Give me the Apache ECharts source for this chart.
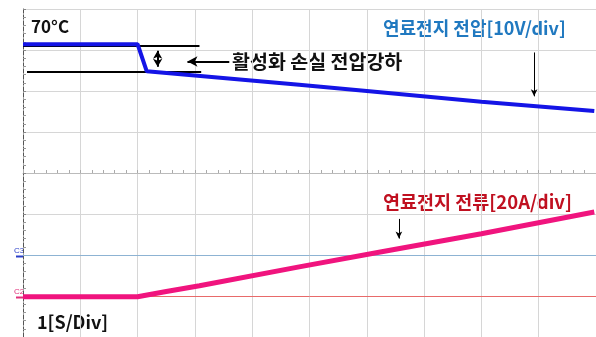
<!DOCTYPE html>
<html><head><meta charset="utf-8">
<script src="https://cdn.jsdelivr.net/npm/echarts@6/dist/echarts.min.js"></script>
<style>html,body{margin:0;padding:0;background:#fff}#c{width:596px;height:337px}</style>
</head><body><div id="c"></div>
<script>
// time in seconds (1 s/div), vertical values in divisions (center = 0)
const voltageTime = [0, 2.0, 2.16, 4.82, 6.0, 8.0, 9.97];
const voltageDiv  = [3.14, 3.14, 2.48, 2.15, 2.0, 1.74, 1.51];
const currentTime = [0, 2.0, 2.5, 3.08, 4.82, 6.26, 8.0, 9.97];
const currentDiv  = [-3.02, -3.02, -2.89, -2.75, -2.29, -1.92, -1.48, -0.95];
const refC3 = -2.0, refC2 = -3.0;
const dropTop = 3.10, dropBottom = 2.48;

const chart = echarts.init(document.getElementById('c'));
const font = '"Noto Sans CJK KR", "Noto Sans", sans-serif';
const zip = (a, b) => a.map((v, i) => [v, b[i]]);

chart.setOption({
  animation: false,
  grid: { left: 23, top: 9, width: 575, height: 329 },
  xAxis: {
    type: 'value', min: 0, max: 10, interval: 1,
    axisLabel: { show: false },
    axisLine: { show: true, onZero: true, lineStyle: { color: '#bbbbbb', width: 1 } },
    axisTick: { show: true, inside: true, length: 3, lineStyle: { color: '#aaaaaa' } },
    minorTick: { show: true, splitNumber: 5, length: 3, lineStyle: { color: '#aaaaaa' } },
    splitLine: { show: true, lineStyle: { color: '#d6d6d6', width: 1 } }
  },
  yAxis: {
    type: 'value', min: -4, max: 4, interval: 1,
    axisLabel: { show: false },
    axisLine: { show: true, lineStyle: { color: '#555555', type: 'dashed', width: 1 } },
    axisTick: { show: true, inside: true, length: 3, lineStyle: { color: '#888' } },
    minorTick: { show: true, splitNumber: 5, length: 3, lineStyle: { color: '#999' } },
    splitLine: { show: true, lineStyle: { color: '#d6d6d6', width: 1 } }
  },
  series: [
    {
      type: 'line', data: zip(voltageTime, voltageDiv), symbol: 'none', silent: true,
      lineStyle: { color: '#1414e6', width: 4 }, z: 5,
      markLine: {
        silent: true, animation: false, symbol: 'none', label: { show: false },
        lineStyle: { color: '#000', width: 2, type: 'solid' },
        data: [
          [{ coord: [0, dropTop] }, { coord: [3.08, dropTop] }],
          [{ coord: [0.07, dropBottom] }, { coord: [3.11, dropBottom] }],
          [{ coord: [2.35, 2.98], symbol: 'arrow', symbolSize: [7, 8] }, { coord: [2.35, 2.59], symbol: 'arrow', symbolSize: [7, 8] }],
          [{ coord: [3.6, 2.72], symbol: 'none' }, { coord: [2.87, 2.72], symbol: 'arrow', symbolSize: [8, 10] }],
          [{ coord: [8.92, 2.94], symbol: 'none', lineStyle: { width: 1 } }, { coord: [8.92, 1.87], symbol: 'arrow', symbolSize: [5, 7], lineStyle: { width: 1 } }]
        ]
      }
    },
    {
      type: 'line', data: zip(currentTime, currentDiv), symbol: 'none', silent: true,
      lineStyle: { color: '#f0147e', width: 5 }, z: 6,
      markLine: {
        silent: true, animation: false, symbol: 'none', label: { show: false },
        lineStyle: { color: '#000', width: 1, type: 'solid' },
        data: [
          [{ coord: [6.56, -1.12], symbol: 'none' }, { coord: [6.56, -1.6], symbol: 'arrow', symbolSize: [5, 7] }]
        ]
      }
    },
    {
      type: 'line', data: [], symbol: 'none', silent: true, z: 3,
      markLine: {
        silent: true, animation: false, symbol: 'none', label: { show: false },
        data: [
          { yAxis: refC3, lineStyle: { color: '#8db3d3', width: 1, type: 'solid' } },
          { yAxis: refC2, lineStyle: { color: '#e86a6a', width: 1, type: 'solid' } }
        ]
      }
    }
  ],
  graphic: [
    { type: 'text', x: 31, y: 27, style: { text: '70°C', font: 'bold 17px ' + font, fill: '#111', textVerticalAlign: 'middle' } },
    { type: 'text', x: 232, y: 62, style: { text: '활성화 손실 전압강하', font: 'bold 19.5px ' + font, fill: '#111', textVerticalAlign: 'middle' } },
    { type: 'text', x: 383, y: 28, style: { text: '연료전지 전압[10V/div]', font: 'bold 18px ' + font, fill: '#2079c0', textVerticalAlign: 'middle' } },
    { type: 'text', x: 383, y: 202, style: { text: '연료전지 전류[20A/div]', font: 'bold 18.5px ' + font, fill: '#c01020', textVerticalAlign: 'middle' } },
    { type: 'text', x: 37, y: 322, style: { text: '1[S/Div]', font: 'bold 18px ' + font, fill: '#111', textVerticalAlign: 'middle' } },
    { type: 'text', x: 14, y: 251, style: { text: 'C3', font: '8px sans-serif', fill: '#2a3fc8', textVerticalAlign: 'middle' } },
    { type: 'text', x: 14, y: 292, style: { text: 'C2', font: '8px sans-serif', fill: '#e0307a', textVerticalAlign: 'middle' } },
    { type: 'line', shape: { x1: 16, y1: 256.5, x2: 23, y2: 256.5 }, style: { stroke: '#2a3fc8', lineWidth: 2 } },
    { type: 'line', shape: { x1: 16, y1: 297.5, x2: 23, y2: 297.5 }, style: { stroke: '#e0307a', lineWidth: 2 } }
  ]
});
</script></body></html>
